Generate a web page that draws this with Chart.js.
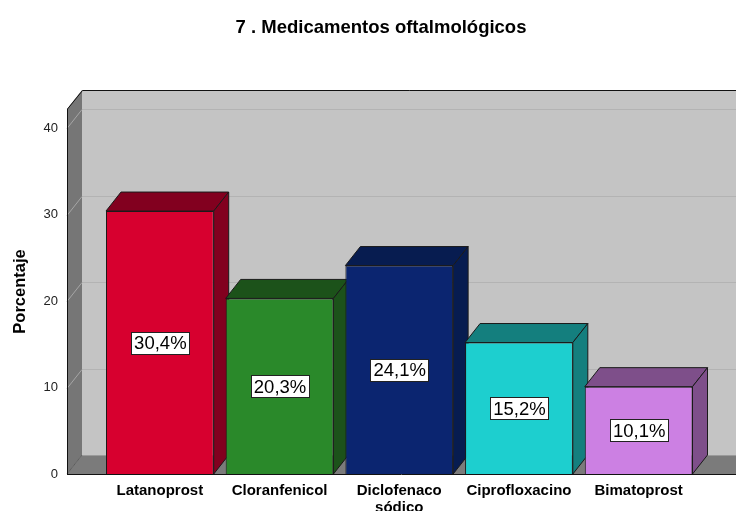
<!DOCTYPE html>
<html>
<head>
<meta charset="utf-8">
<script src="https://cdn.jsdelivr.net/npm/chart.js@4/dist/chart.umd.min.js"></script>
<style>
  html, body { margin: 0; padding: 0; background: #ffffff; overflow: hidden; }
  #wrap { width: 736px; height: 511px; }
</style>
</head>
<body>
<div id="wrap"><canvas id="c" width="736" height="511"></canvas></div>
<script>
// ---- data ----
const chartTitle = '7 . Medicamentos oftalmológicos';
const yAxisTitle = 'Porcentaje';
const categories = ['Latanoprost', 'Cloranfenicol', ['Diclofenaco', 'sódico'], 'Ciprofloxacino', 'Bimatoprost'];
const percentages = [30.4, 20.3, 24.1, 15.2, 10.1];
const valueLabels = ['30,4%', '20,3%', '24,1%', '15,2%', '10,1%'];
const yTicks = [0, 10, 20, 30, 40];

// ---- styles ----
const frontColors = ['#d7002f', '#2a892a', '#0b2570', '#1dcfcf', '#cc80e3'];
const darkColors  = ['#82001f', '#1c521a', '#071c50', '#147f7e', '#7e4f8a'];
const DEPTH_X = 15, DEPTH_Y = -19;   // 3D depth offset
const WALL_GAP = 33;                  // distance from wall front edge to chart area left
const FONT = "'Liberation Sans', Arial, Helvetica, sans-serif";

const threeD = {
  id: 'threeD',
  beforeDraw(chart) {
    const {ctx, chartArea: a, scales: {y}} = chart;
    const W = chart.width;
    const wx = a.left - WALL_GAP;       // wall front x
    const bx = wx + DEPTH_X;             // back wall x
    const yTop = y.getPixelForValue(y.max);
    const yBot = y.getPixelForValue(0);
    ctx.save();
    // back wall
    ctx.fillStyle = '#c4c4c4';
    ctx.fillRect(bx, yTop + DEPTH_Y, W - bx, (yBot - yTop));
    // floor
    ctx.fillStyle = '#7b7b7b';
    ctx.beginPath();
    ctx.moveTo(wx, yBot); ctx.lineTo(bx, yBot + DEPTH_Y); ctx.lineTo(W, yBot + DEPTH_Y); ctx.lineTo(W, yBot);
    ctx.closePath(); ctx.fill();
    // left wall
    ctx.fillStyle = '#767676';
    ctx.beginPath();
    ctx.moveTo(wx, yTop); ctx.lineTo(bx, yTop + DEPTH_Y); ctx.lineTo(bx, yBot + DEPTH_Y); ctx.lineTo(wx, yBot);
    ctx.closePath(); ctx.fill();
    // gridlines
    ctx.lineWidth = 1;
    yTicks.forEach(v => {
      if (v === 0) return;
      const py = Math.round(y.getPixelForValue(v)) + 0.5;
      ctx.strokeStyle = '#b3b3b3';
      ctx.beginPath(); ctx.moveTo(bx, py + DEPTH_Y); ctx.lineTo(W, py + DEPTH_Y); ctx.stroke();
      ctx.strokeStyle = '#a6a6a6';
      ctx.beginPath(); ctx.moveTo(wx, py); ctx.lineTo(bx, py + DEPTH_Y); ctx.stroke();
    });
    // floor / wall edge lines
    ctx.strokeStyle = '#9a9a9a';
    ctx.beginPath(); ctx.moveTo(bx, Math.round(yBot + DEPTH_Y) + 0.5); ctx.lineTo(W, Math.round(yBot + DEPTH_Y) + 0.5); ctx.stroke();
    ctx.strokeStyle = '#5e5e5e';
    ctx.beginPath(); ctx.moveTo(wx, yBot); ctx.lineTo(bx, yBot + DEPTH_Y); ctx.stroke();
    // outlines
    ctx.strokeStyle = '#111';
    ctx.beginPath();
    ctx.moveTo(wx + 0.5, yBot); ctx.lineTo(wx + 0.5, yTop); ctx.lineTo(bx + 0.5, Math.round(yTop + DEPTH_Y) + 0.5); ctx.lineTo(W, Math.round(yTop + DEPTH_Y) + 0.5);
    ctx.stroke();
    ctx.beginPath();
    ctx.moveTo(wx, Math.round(yBot) + 0.5); ctx.lineTo(W, Math.round(yBot) + 0.5);
    ctx.stroke();
    ctx.restore();
  },
  beforeDatasetsDraw(chart) {
    const {ctx} = chart;
    const meta = chart.getDatasetMeta(0);
    ctx.save();
    ctx.lineWidth = 1;
    ctx.strokeStyle = '#1a1a1a';
    meta.data.forEach((bar, i) => {
      const x0 = bar.x - bar.width / 2, x1 = bar.x + bar.width / 2;
      const t = bar.y, b = bar.base;
      ctx.fillStyle = darkColors[i];
      // top face
      ctx.beginPath();
      ctx.moveTo(x0, t); ctx.lineTo(x0 + DEPTH_X, t + DEPTH_Y); ctx.lineTo(x1 + DEPTH_X, t + DEPTH_Y); ctx.lineTo(x1, t);
      ctx.closePath(); ctx.fill(); ctx.stroke();
      // side face
      ctx.beginPath();
      ctx.moveTo(x1, t); ctx.lineTo(x1 + DEPTH_X, t + DEPTH_Y); ctx.lineTo(x1 + DEPTH_X, b + DEPTH_Y); ctx.lineTo(x1, b);
      ctx.closePath(); ctx.fill(); ctx.stroke();
    });
    ctx.restore();
  },
  afterDatasetsDraw(chart) {
    const {ctx} = chart;
    const meta = chart.getDatasetMeta(0);
    ctx.save();
    ctx.font = '18.5px ' + FONT;
    ctx.textAlign = 'center';
    ctx.textBaseline = 'middle';
    meta.data.forEach((bar, i) => {
      const txt = valueLabels[i];
      const cy = (bar.y + bar.base) / 2;
      const w = Math.round(ctx.measureText(txt).width + 6);
      const h = 22;
      const lx = Math.round(bar.x - w / 2) + 0.5, ly = Math.round(cy - h / 2) + 0.5;
      ctx.fillStyle = '#ffffff';
      ctx.fillRect(lx, ly, w, h);
      ctx.strokeStyle = '#222';
      ctx.lineWidth = 1;
      ctx.strokeRect(lx, ly, w, h);
      ctx.fillStyle = '#000';
      ctx.fillText(txt, bar.x + 0.5, cy + 1.5);
    });
    ctx.restore();
  }
};

new Chart(document.getElementById('c'), {
  type: 'bar',
  data: {
    labels: categories,
    datasets: [{
      data: percentages,
      backgroundColor: frontColors,
      borderColor: '#1a1a1a',
      borderWidth: 1,
      barPercentage: 0.9,
      categoryPercentage: 1.0
    }]
  },
  options: {
    responsive: false,
    animation: false,
    devicePixelRatio: 1,
    layout: { padding: { left: 26, right: 0, top: 0, bottom: 0 } },
    plugins: {
      legend: { display: false },
      tooltip: { enabled: false },
      title: {
        display: true,
        text: chartTitle,
        color: '#000',
        font: { family: FONT, size: 18.5, weight: 'bold', lineHeight: 1.2 },
        padding: { top: 16.5, bottom: 70.3 }
      }
    },
    scales: {
      x: {
        type: 'category',
        position: 'bottom',
        offset: true,
        grid: { display: false, drawTicks: false },
        border: { display: false },
        ticks: {
          color: '#000',
          padding: 9,
          maxRotation: 0,
          autoSkip: false,
          font: { family: FONT, size: 15, weight: 'bold', lineHeight: 1.1 }
        },
        afterFit(s) { s.height = 37; s.paddingLeft = 0; s.paddingRight = 0; }
      },
      y: {
        type: 'linear',
        position: 'left',
        min: 0,
        max: 42.2,
        grid: { display: false, drawTicks: false },
        border: { display: false },
        ticks: {
          stepSize: 10,
          includeBounds: false,
          padding: 42,
          color: '#222',
          font: { family: FONT, size: 13 },
          callback: (v) => yTicks.includes(v) ? String(v) : null
        },
        title: {
          display: true,
          text: yAxisTitle,
          color: '#000',
          font: { family: FONT, size: 16.5, weight: 'bold', lineHeight: 1.2 },
          padding: { top: -15.4, bottom: 0 }
        },
        afterFit(s) { s.width = 74; s.paddingTop = 0; s.paddingBottom = 0; }
      },
      yRight: {
        type: 'linear',
        position: 'right',
        display: true,
        grid: { display: false, drawTicks: false },
        border: { display: false },
        ticks: { display: false },
        afterFit(s) { s.width = 37.5; s.paddingTop = 0; s.paddingBottom = 0; }
      }
    }
  },
  plugins: [threeD]
});
</script>
</body>
</html>
